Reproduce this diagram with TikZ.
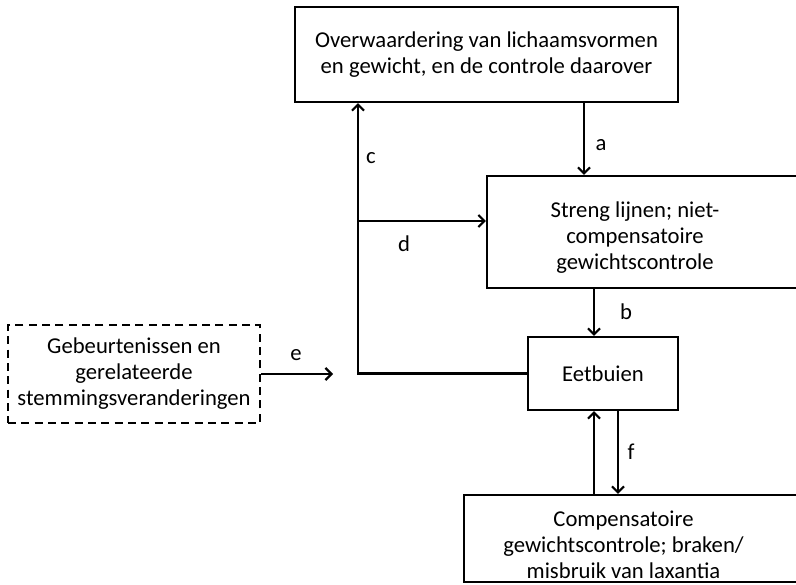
\documentclass[tikz,border=0pt]{standalone}
\usepackage{fontspec}
\setmainfont{Carlito}
\usetikzlibrary{arrows.meta}
\tikzset{
  box/.style={draw, line width=1.6pt, align=center, inner sep=0pt},
  txt/.style={align=center, inner sep=0pt, font=\fontsize{17}{19.5}\selectfont},
  lbl/.style={inner sep=0pt, font=\fontsize{17}{20}\selectfont},
}
\begin{document}
\begin{tikzpicture}[x=0.75pt,y=-0.75pt,line width=1.6pt,>={Straight Barb[length=4.5pt,width=9pt]}]
\useasboundingbox (0,0) rectangle (796,585);
% boxes
\node[box, txt, minimum width=287.25pt, minimum height=71.25pt] (ovw) at (486.5,54.5)
  {Overwaardering van lichaamsvormen\\en gewicht, en de controle daarover};
\node[box, minimum width=249.75pt, minimum height=84pt] (sl) at (653.5,232) {};
\node[txt] (sltxt) at (635,238) {Streng lijnen; niet-\\compensatoire\\gewichtscontrole};
\node[box, txt, minimum width=112.5pt, minimum height=54.75pt] (eb) at (603,373.5) {Eetbuien};
\node[box, minimum width=267pt, minimum height=65.25pt] (cp) at (642,538.5) {};
\node[txt] (cptxt) at (623.5,545) {Compensatoire\\gewichtscontrole; braken/\\misbruik van laxantia};
\node[box, txt, dashed, dash pattern=on 6pt off 4pt, minimum width=189pt, minimum height=73.5pt] (gb) at (134,374)
  {Gebeurtenissen en\\gerelateerde\\stemmingsveranderingen};
% columns and free end
\coordinate (colA) at (584,0);
\coordinate (colB) at (594,0);
\coordinate (colF) at (618,0);
\coordinate (colC) at (358,0);
\coordinate (rowD) at (0,221);
\coordinate (eEnd) at (333,374);
% connectors
\draw[->] (ovw.south -| colA) -- (sl.north -| colA);
\draw[->] (sl.south -| colB) -- (eb.north -| colB);
\draw[->] (cp.north -| colB) -- (eb.south -| colB);
\draw[->] (eb.south -| colF) -- (cp.north -| colF);
\draw[->] (eb.west) -- (eb.west -| colC) -- (ovw.south -| colC);
\draw[->] (colC |- rowD) -- (sl.west |- rowD);
\draw[->] (gb.east) -- (eEnd);
% labels
\node[lbl] (la) at (601,145) {a};
\node[lbl] (lb) at (626,312) {b};
\node[lbl] (lc) at (371,158) {c};
\node[lbl] (ld) at (404,244) {d};
\node[lbl] (le) at (296,355) {e};
\node[lbl] (lf) at (631,452) {f};
\end{tikzpicture}
\end{document}
